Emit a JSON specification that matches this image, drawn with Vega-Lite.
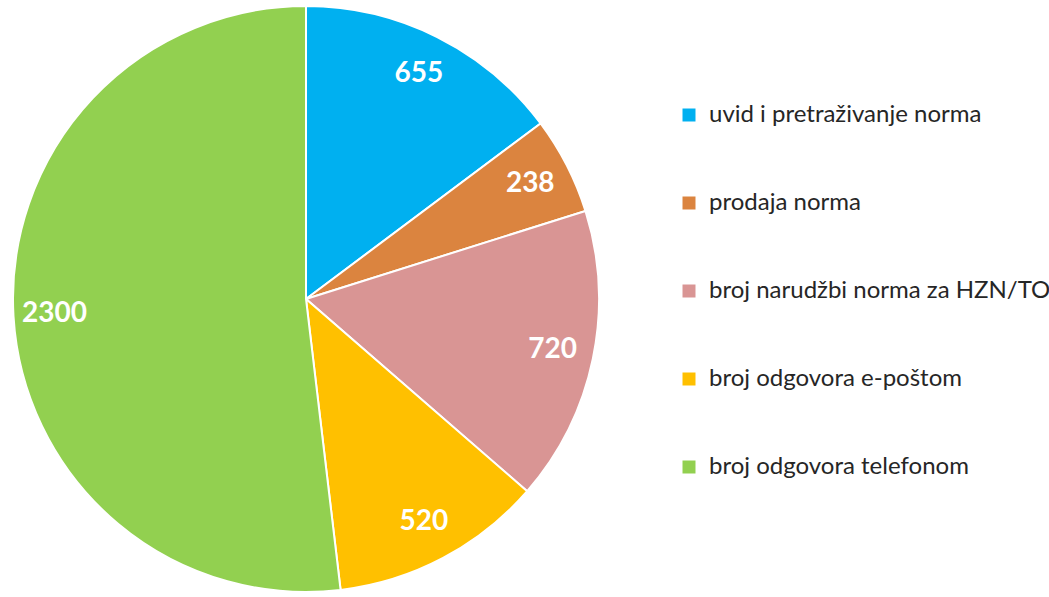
{
  "$schema": "https://vega.github.io/schema/vega-lite/v6.json",
  "width": 612,
  "height": 598,
  "padding": {"left": 0, "top": 0, "right": 437, "bottom": 0},
  "autosize": "none",
  "background": "white",
  "config": {"view": {"stroke": null}},
  "data": {"values": [
    {"idx": 1, "kategorija": "uvid i pretraživanje norma", "broj": 655},
    {"idx": 2, "kategorija": "prodaja norma", "broj": 238},
    {"idx": 3, "kategorija": "broj narudžbi norma za HZN/TO", "broj": 720},
    {"idx": 4, "kategorija": "broj odgovora e-poštom", "broj": 520},
    {"idx": 5, "kategorija": "broj odgovora telefonom", "broj": 2300}
  ]},
  "encoding": {
    "theta": {"field": "broj", "type": "quantitative", "stack": true},
    "order": {"field": "idx", "type": "quantitative"}
  },
  "layer": [
    {
      "mark": {"type": "arc", "outerRadius": 293, "stroke": "white", "strokeWidth": 2},
      "encoding": {
        "color": {
          "field": "kategorija",
          "type": "nominal",
          "sort": ["uvid i pretraživanje norma", "prodaja norma", "broj narudžbi norma za HZN/TO", "broj odgovora e-poštom", "broj odgovora telefonom"],
          "scale": {
            "domain": ["uvid i pretraživanje norma", "prodaja norma", "broj narudžbi norma za HZN/TO", "broj odgovora e-poštom", "broj odgovora telefonom"],
            "range": ["#00B0F0", "#DB843F", "#D99594", "#FFC000", "#92D050"]
          },
          "legend": {
            "title": null,
            "orient": "none",
            "legendX": 677,
            "legendY": 103,
            "symbolType": "square",
            "symbolSize": 169,
            "symbolStrokeWidth": 0,
            "labelFont": "Lato",
            "labelFontSize": 24,
            "labelColor": "#262626",
            "labelOffset": 8,
            "rowPadding": 64,
            "labelLimit": 400
          }
        }
      }
    },
    {
      "mark": {"type": "text", "radius": 252, "font": "Lato", "fontSize": 28, "fontWeight": "bold", "color": "white"},
      "encoding": {
        "text": {"field": "broj", "type": "quantitative"}
      }
    }
  ]
}
